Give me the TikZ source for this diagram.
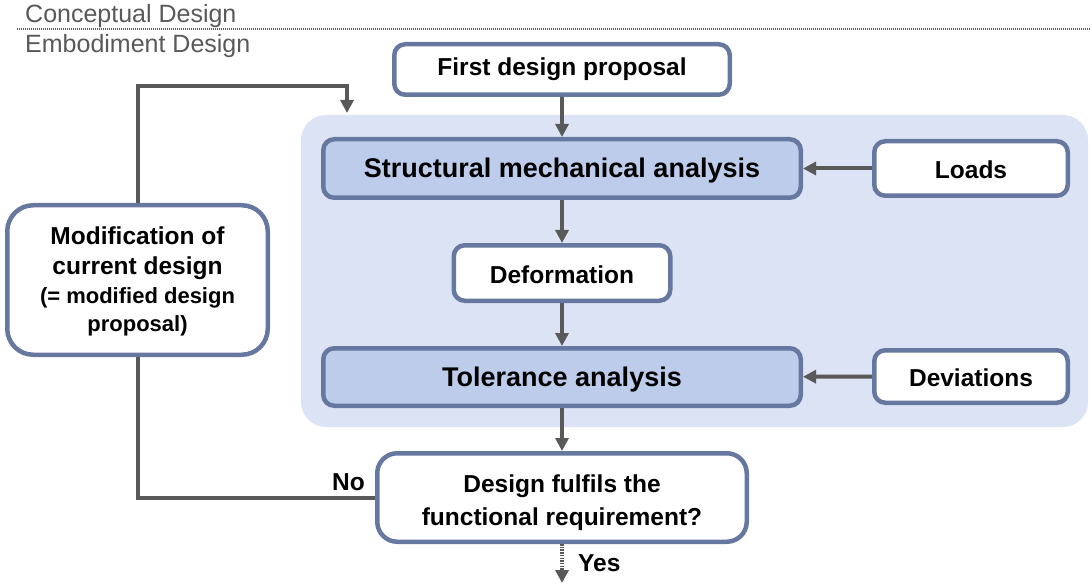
\documentclass[tikz,border=0pt]{standalone}
\usepackage{fontspec}
\setmainfont{Liberation Sans}
\usetikzlibrary{arrows.meta}
\definecolor{bordercol}{HTML}{6678A0}
\definecolor{anafill}{HTML}{BCCCEA}
\definecolor{bgfill}{HTML}{DCE3F4}
\definecolor{arrcol}{HTML}{595959}
\definecolor{headcol}{HTML}{595959}
\tikzset{
  box/.style={draw=bordercol, line width=4.5pt, fill=white, rounded corners=11pt,
    inner sep=0pt, align=center, font=\fontsize{24.5pt}{30pt}\selectfont\bfseries},
  anabox/.style={box, fill=anafill, font=\fontsize{27pt}{32pt}\selectfont\bfseries},
  conn/.style={draw=arrcol, line width=4pt},
  arr/.style={conn, -{Triangle[width=13pt,length=13pt]}},
  head/.style={anchor=base west, inner sep=0pt, text=headcol, font=\fontsize{25pt}{30pt}\selectfont},
  lbl/.style={inner sep=0pt, font=\fontsize{24.5pt}{30pt}\selectfont\bfseries}
}
\begin{document}
\begin{tikzpicture}[x=1pt,y=-1pt]
\useasboundingbox (0,0) rectangle (1091,585);
% background panel
\fill[bgfill, rounded corners=25pt] (301,115) rectangle (1088,427);
% header
\node[head] (concept) at (25,23) {Conceptual Design};
\node[head] (embod) at (25,53) {Embodiment Design};
\draw[headcol, line width=2pt, dash pattern=on 1pt off 1pt] (17,29) -- (1091,29);
% nodes
\node[box, minimum width=335.5pt, minimum height=50.5pt] (first) at (562,69.5) {First design proposal};
\node[anabox, minimum width=477.5pt, minimum height=58.5pt] (sma) at (562,168.5) {\rule{0pt}{24pt}Structural mechanical analysis};
\node[box, minimum width=193.5pt, minimum height=54.5pt] (loads) at (971,168.5) {\rule{0pt}{21pt}Loads};
\node[box, minimum width=216.5pt, minimum height=55.5pt] (deform) at (562,273) {\rule{0pt}{21pt}Deformation};
\node[anabox, minimum width=477.5pt, minimum height=57.5pt] (tol) at (562,377) {\rule{0pt}{24pt}Tolerance analysis};
\node[box, minimum width=193.5pt, minimum height=52.5pt] (dev) at (971,376.5) {\rule{0pt}{21pt}Deviations};
\node[box, rounded corners=20pt, minimum width=369.5pt, minimum height=88.5pt,
      font=\fontsize{24.5pt}{33pt}\selectfont\bfseries] (dec) at (562,497.5)
      {\rule{0pt}{28pt}Design fulfils the\\functional requirement?};
\node[box, rounded corners=26pt, minimum width=260.5pt, minimum height=149.5pt] (modif) at (137.5,280)
      {\rule{0pt}{21pt}Modification of\\current design\\[-1pt]{\fontsize{22pt}{28pt}\selectfont (= modified design}\\[-2pt]{\fontsize{22pt}{28pt}\selectfont proposal)}};
% connectors
\draw[arr] (first) -- (sma);
\draw[arr] (sma) -- (deform);
\draw[arr] (deform) -- (tol);
\draw[arr] (tol) -- (dec);
\draw[arr] (loads) -- (sma);
\draw[arr] (dev) -- (tol);
\coordinate (loopturn) at (347,86);
\coordinate (looptip) at (347,113);
\coordinate (yesend) at (562,583);
\draw[conn] (dec.west) -| (modif.south);
\draw[arr] (modif.north) |- (loopturn) -- (looptip);
\draw[arr, dash pattern=on 1.5pt off 1.2pt] (dec.south) -- (yesend);
% labels
\node[lbl] (no) at (348.5,482) {No};
\node[lbl, anchor=west] (yes) at (578,563) {Yes};
\end{tikzpicture}
\end{document}
